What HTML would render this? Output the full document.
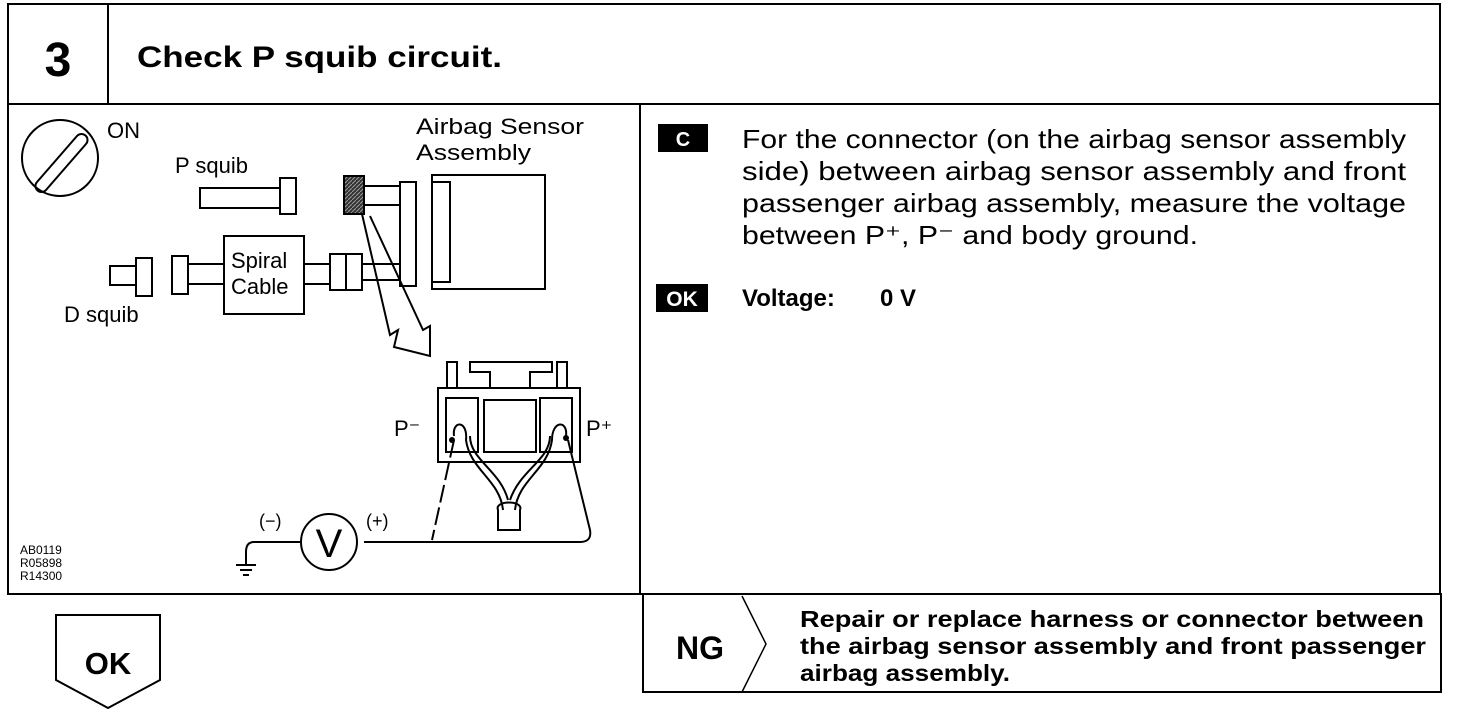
<!DOCTYPE html>
<html><head><meta charset="utf-8"><style>
html,body{margin:0;padding:0;background:#fff;width:1472px;height:720px;overflow:hidden}
svg{display:block}
text{font-family:"Liberation Sans",Arial,sans-serif;fill:#000}
</style></head><body>
<svg width="1472" height="720" viewBox="0 0 1472 720" xmlns="http://www.w3.org/2000/svg">
<defs><pattern id="h" width="4" height="4" patternUnits="userSpaceOnUse"><rect width="4" height="4" fill="#333"/><path d="M0 4L4 0" stroke="#999" stroke-width="1"/></pattern></defs>
<g fill="none" stroke="#000" stroke-width="2">
<rect x="8" y="4" width="1432" height="100"/>
<line x1="108" y1="4" x2="108" y2="104"/>
<rect x="8" y="104" width="632" height="490"/>
<rect x="640" y="104" width="800" height="490"/>
<rect x="643" y="594" width="798" height="98"/>
<polyline points="742,596 766,644 742,692" stroke-width="1.5"/>
<polygon points="56,615 160,615 160,680 108,708 56,680"/>
</g>
<text x="58" y="76" font-size="48" font-weight="bold" text-anchor="middle">3</text>
<text x="137" y="67" font-size="30" font-weight="bold" textLength="365" lengthAdjust="spacingAndGlyphs">Check P squib circuit.</text>
<text x="108" y="674" font-size="31" font-weight="bold" text-anchor="middle">OK</text>
<text x="700" y="659" font-size="32" font-weight="bold" text-anchor="middle">NG</text>
<g font-size="23" font-weight="bold">
<text x="800" y="627" textLength="624" lengthAdjust="spacingAndGlyphs">Repair or replace harness or connector between</text>
<text x="800" y="654" textLength="626" lengthAdjust="spacingAndGlyphs">the airbag sensor assembly and front passenger</text>
<text x="800" y="681" textLength="210" lengthAdjust="spacingAndGlyphs">airbag assembly.</text>
</g>
<rect x="658" y="124" width="50" height="28" fill="#000"/>
<text x="683" y="146" font-size="20" font-weight="bold" text-anchor="middle" style="fill:#fff">C</text>
<rect x="656" y="284" width="52" height="28" fill="#000"/>
<text x="682" y="306" font-size="21" font-weight="bold" text-anchor="middle" style="fill:#fff">OK</text>
<g font-size="26">
<text x="742" y="148" textLength="664" lengthAdjust="spacingAndGlyphs">For the connector (on the airbag sensor assembly</text>
<text x="742" y="180" textLength="664" lengthAdjust="spacingAndGlyphs">side) between airbag sensor assembly and front</text>
<text x="742" y="212" textLength="664" lengthAdjust="spacingAndGlyphs">passenger airbag assembly, measure the voltage</text>
<text x="742" y="244" textLength="456" lengthAdjust="spacingAndGlyphs">between P⁺, P⁻ and body ground.</text>
</g>
<text x="742" y="306" font-size="24" font-weight="bold">Voltage:</text>
<text x="880" y="306" font-size="24" font-weight="bold">0 V</text>
<!-- diagram -->
<g fill="none" stroke="#000" stroke-width="2">
<circle cx="60" cy="158" r="38"/>
<path d="M37 182 L77 136 A6 6 0 0 1 86 144 L46 190 A6 6 0 0 1 37 182Z"/>
<rect x="280" y="178" width="16" height="36"/>
<polyline points="280,188 200,188 200,208 280,208"/>
<rect x="344" y="176" width="20" height="38" fill="url(#h)"/>
<line x1="364" y1="186" x2="400" y2="186"/><line x1="364" y1="205" x2="400" y2="205"/>
<rect x="400" y="182" width="16" height="104"/>
<rect x="432" y="175" width="113" height="114"/>
<rect x="432" y="182" width="18" height="100"/>
<rect x="136" y="258" width="16" height="38"/>
<polyline points="136,266 110,266 110,285 136,285"/>
<rect x="172" y="256" width="16" height="38"/>
<line x1="188" y1="264" x2="224" y2="264"/><line x1="188" y1="284" x2="224" y2="284"/>
<rect x="224" y="236" width="80" height="78"/>
<line x1="304" y1="264" x2="330" y2="264"/><line x1="304" y1="284" x2="330" y2="284"/>
<rect x="330" y="254" width="32" height="36"/><line x1="346" y1="254" x2="346" y2="290"/>
<line x1="362" y1="264" x2="400" y2="264"/><line x1="362" y1="280" x2="400" y2="280"/>
<path d="M362 214 L390 335 L398 330 L394 347 L430 356 L430 326 L423 330 L370 216"/>
<rect x="438" y="388" width="142" height="74"/>
<rect x="446" y="398" width="32" height="54"/><rect x="540" y="398" width="32" height="54"/>
<rect x="484" y="400" width="52" height="52"/>
<rect x="447" y="362" width="10" height="26"/><rect x="557" y="362" width="10" height="26"/>
<path d="M470 362 H552 V372 H530 V388 H490 V372 H470Z"/>
<path d="M454 436 C452 420 468 420 466 440 C470 470 500 480 503 510 M470 436 C470 460 500 470 508 500"/>
<path d="M566 436 C568 420 552 420 552 440 C548 470 518 480 515 510 M550 436 C550 460 520 470 510 500"/>
<path d="M498 510 C494 500 524 500 520 510 V530 H498Z"/>
<line x1="454" y1="440" x2="432" y2="540" stroke-dasharray="18 5"/>
<path d="M568 440 L590 530 Q592 542 580 542 L364 542"/>
<circle cx="329" cy="542" r="28"/>
<path d="M301 542 L254 542 Q246 542 246 552 L246 565"/>
<line x1="236" y1="565" x2="256" y2="565"/><line x1="240" y1="570" x2="252" y2="570"/><line x1="243" y1="575" x2="249" y2="575"/>
</g>
<circle cx="452" cy="440" r="3"/><circle cx="566" cy="438" r="3"/>
<g font-size="22">
<text x="107" y="138">ON</text>
<text x="416" y="134" textLength="168" lengthAdjust="spacingAndGlyphs">Airbag Sensor</text>
<text x="416" y="160" textLength="115" lengthAdjust="spacingAndGlyphs">Assembly</text>
<text x="175" y="173">P squib</text>
<text x="231" y="268">Spiral</text>
<text x="231" y="294">Cable</text>
<text x="64" y="322">D squib</text>
<text x="394" y="436">P⁻</text>
<text x="586" y="436">P⁺</text>
<text x="259" y="527" font-size="18">(−)</text>
<text x="366" y="527" font-size="18">(+)</text>
<text x="329" y="557" font-size="40" text-anchor="middle">V</text>
</g>
<g font-size="12"><text x="20" y="554">AB0119</text><text x="20" y="567">R05898</text><text x="20" y="580">R14300</text></g>
</svg>
</body></html>
